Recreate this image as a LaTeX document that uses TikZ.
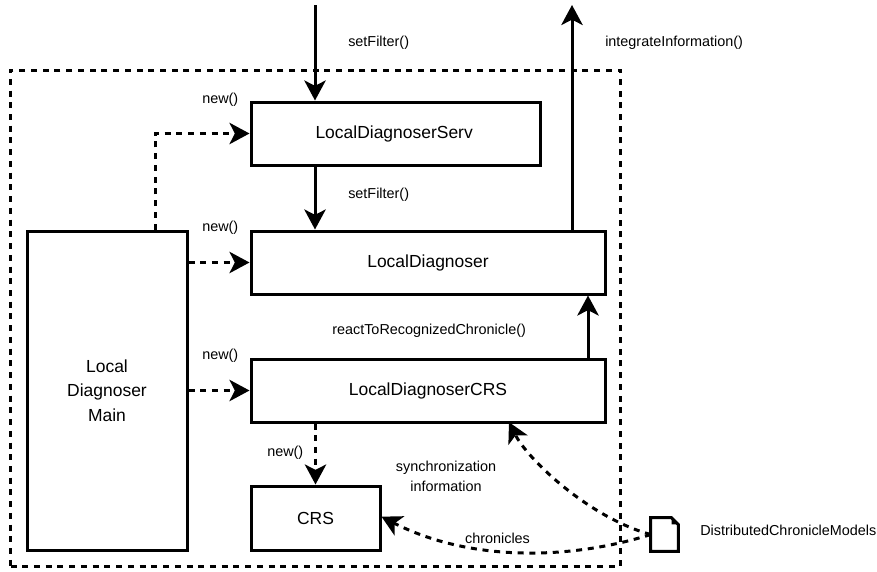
\documentclass[tikz,border=0pt]{standalone}
\usepackage{fontspec}
\setmainfont{Liberation Sans}
\usetikzlibrary{arrows.meta,positioning}
\tikzset{
    compbox/.style={draw, line width=2.25pt, align=center, inner sep=0pt, font=\fontsize{13.1}{18.2}\selectfont},
    lbl/.style={inner sep=0pt, align=center, font=\fontsize{10.8}{14.6}\selectfont},
    call/.style={->, >={Stealth[length=15pt,width=16pt,inset=4pt]}, line width=2.25pt},
    create/.style={call, line width=2.25pt, dash pattern=on 4.5pt off 4.3pt},
}
\begin{document}
\begin{tikzpicture}[x=0.75pt, y=-0.75pt]
\useasboundingbox (0,0) rectangle (877,571);

% Outer boundary
\node[draw, line width=2.25pt, dash pattern=on 4.5pt off 4.3pt, inner sep=0pt, minimum width=457.5pt, minimum height=372pt] (boundary) at (315.5,318) {};

% Components
\node[compbox, minimum width=216.75pt, minimum height=47.25pt] (serv) at (395.5,133.5) {\hspace*{-2pt}LocalDiagnoserServ};
\node[compbox, minimum width=265.5pt, minimum height=47.25pt] (diag) at (428,262.5) {LocalDiagnoser};
\node[compbox, minimum width=265.5pt, minimum height=47.25pt] (crsdiag) at (428,390.5) {LocalDiagnoserCRS};
\node[compbox, minimum width=96.75pt, minimum height=48pt] (crs) at (315.5,518) {CRS};
\node[compbox, minimum width=120pt, minimum height=239.25pt] (mainbox) at (107,390.5) {Local\\Diagnoser\\Main};

% Model file
\node[inner sep=0pt, minimum width=20.25pt, minimum height=24.75pt] (file) at (664.5,534.5) {};
\draw[line width=2.25pt, line join=miter] (file.south west) -- (file.north west) -- ([xshift=-5pt]file.north east) -- ([yshift=-5pt]file.north east) -- (file.south east) -- cycle;
\fill ([xshift=-5pt]file.north east) -- ([xshift=-5pt,yshift=-5pt]file.north east) -- ([yshift=-5pt]file.north east) -- cycle;

% Free ends
\coordinate (inflow) at (315,5);
\coordinate (outflow) at (572,5);

% Method calls
\draw[call] (inflow) -- (serv.north -| inflow);
\draw[call] (serv.south -| inflow) -- (diag.north -| inflow);
\draw[call] (diag.north -| outflow) -- (outflow);
\draw[call] (crsdiag.north -| 588,0) -- (diag.south -| 588,0);

% Creation
\draw[create] (mainbox.north -| 155,0) |- (serv.west);
\draw[create] (mainbox.east |- diag.west) -- (diag.west);
\draw[create] (mainbox.east |- crsdiag.west) -- (crsdiag.west);
\draw[create] (crsdiag.south -| crs.north) -- (crs.north);

% Model distribution
\draw[create] (file.west) .. controls (590,518) and (528,460) .. ([xshift=60.75pt,yshift=1pt]crsdiag.south);
\draw[create] (file.west) .. controls (570,560) and (470,562) .. ([yshift=1pt]crs.east);

% Labels
\node[lbl, anchor=west] (setfiltera) at (348,43) {setFilter()};
\node[lbl, anchor=west] (setfilterb) at (348,195) {setFilter()};
\node[lbl, anchor=west] (integrate) at (605,43) {integrateInformation()};
\node[lbl, anchor=west] (newa) at (202,100) {new()};
\node[lbl, anchor=west] (newb) at (202,228) {new()};
\node[lbl, anchor=west] (newc) at (202,356) {new()};
\node[lbl, anchor=west] (newd) at (267,453) {new()};
\node[lbl, anchor=west] (react) at (332,331) {reactToRecognizedChronicle()};
\node[lbl] (sync) at (446,476.5) {synchronization\\information};
\node[lbl] (chron) at (497.5,538) {chronicles};
\node[lbl, anchor=west] (modelname) at (700,530) {DistributedChronicleModels};

\end{tikzpicture}
\end{document}
